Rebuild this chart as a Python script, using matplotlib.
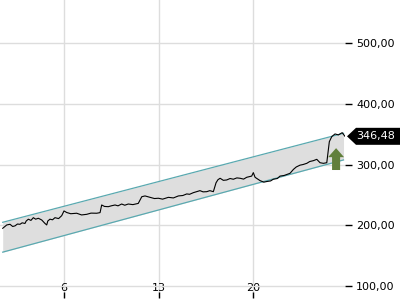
import matplotlib
matplotlib.use("Agg")
import matplotlib.pyplot as plt
from matplotlib.patches import Polygon
from matplotlib.transforms import IdentityTransform

# price series (x = day of month, fractional for intraday)
days = [1.46, 1.76, 2.0, 2.2, 2.37, 2.55, 2.74, 2.9, 3.11, 3.2, 3.36, 3.55, 3.73, 3.9, 4.10,
        4.35, 4.59, 4.72, 4.8, 4.96, 5.15, 5.33, 5.6, 5.83, 6.0, 6.2, 6.5, 6.94, 7.3, 7.68,
        8.0, 8.42, 8.67, 8.79, 9.0, 9.28, 9.5, 9.78, 10.0, 10.27, 10.5, 10.76, 11.1, 11.50,
        11.76, 12.0, 12.37, 12.7, 12.99, 13.3, 13.73, 14.1, 14.47, 14.8, 15.09, 15.3, 15.58,
        16.07, 16.3, 16.57, 16.8, 17.06, 17.26, 17.4, 17.56, 17.8, 18.05, 18.3, 18.54, 18.8,
        19.04, 19.3, 19.53, 19.90, 20.02, 20.15, 20.52, 20.8, 21.01, 21.3, 21.50, 21.8, 22.0,
        22.3, 22.61, 22.74, 22.99, 23.2, 23.48, 23.7, 23.98, 24.2, 24.47, 24.72, 24.96, 25.21,
        25.46, 25.65, 25.83, 26.07, 26.32, 26.60, 26.81]
prices = [195, 200.5, 201.6, 198, 199, 202, 201.6, 204, 203, 207, 210, 208, 212.5, 210, 211.5,
          208.7, 203, 200.5, 207, 210, 209, 212.5, 211, 215.8, 223.6, 221, 219, 219.8, 217, 218,
          220, 219.8, 220.8, 233.4, 231, 230.6, 232, 233.4, 232, 235, 233, 235, 234, 236,
          247, 248.3, 246, 244, 244.5, 243, 246, 245, 248.3, 249, 251.6, 251, 253.7,
          257, 255, 255.3, 257, 255.3, 270, 275, 277.4, 274, 274.6, 277, 275.8, 278,
          277.4, 276, 279, 281, 286.7, 279, 273.5, 271, 272, 273, 275.8, 277, 281,
          282, 284.5, 285.6, 292, 296, 299, 300, 302, 305, 306.4, 308.6, 303, 302,
          303, 337.7, 346, 350.4, 348.8, 352.5, 346.48]

# trend channel end points
channel_days = [1.46, 26.7]
channel_upper = [204.9, 351.5]
channel_lower = [155.7, 307.6]

# signal arrow
arrow_day = 26.15
arrow_from, arrow_to = 291, 327

x_ticks = [6, 13, 20]
y_ticks = [100, 200, 300, 400, 500]

fig = plt.figure(figsize=(4, 3), dpi=100)
ax = fig.add_axes([0, 2 / 300, 345 / 400, 298 / 300])

ax.fill_between(channel_days, channel_lower, channel_upper, color="#dedede", lw=0, zorder=1)
ax.plot(channel_days, channel_upper, color="#5aa9b0", lw=0.9, zorder=2)
ax.plot(channel_days, channel_lower, color="#5aa9b0", lw=0.9, zorder=2)
ax.plot(days, prices, color="black", lw=0.8, zorder=3)

ax.annotate("", xy=(arrow_day, arrow_to), xytext=(arrow_day, arrow_from),
            arrowprops=dict(arrowstyle="simple,head_length=6.5,head_width=11.5,tail_width=5.8",
                            fc="#617f3b", ec="none", shrinkA=0, shrinkB=0,
                            mutation_scale=1), zorder=4)

ax.set_xlim(1.26, 26.81)
ax.set_ylim(80.2, 571)
ax.set_xticks(x_ticks)
ax.set_yticks(y_ticks)
ax.set_yticklabels([f"{v:.2f}".replace(".", ",") for v in y_ticks])
ax.yaxis.tick_right()
ax.grid(True, color="#dddddd", lw=1)
ax.set_axisbelow(True)
for s in ax.spines.values():
    s.set_visible(False)
ax.tick_params(axis="y", direction="out", length=5, width=1, pad=3, labelsize=8, color="black")
ax.tick_params(axis="x", direction="in", length=4, width=1, pad=-11, labelsize=8, color="black")

# last price tag
fig.canvas.draw()
last = prices[-1]
px, py = ax.transData.transform((days[-1], last))
tip = px + 2
h = 8.5
tag = Polygon([(tip, py), (tip + 9, py + h), (400, py + h), (400, py - h), (tip + 9, py - h)],
              closed=True, fc="black", ec="none", transform=IdentityTransform(),
              clip_on=False, zorder=5)
fig.patches.append(tag)
fig.text(376 / 400, py / 300, f"{last:.2f}".replace(".", ","), color="white",
         fontsize=8, ha="center", va="center", zorder=6)

fig.savefig("out.png", dpi=100)
